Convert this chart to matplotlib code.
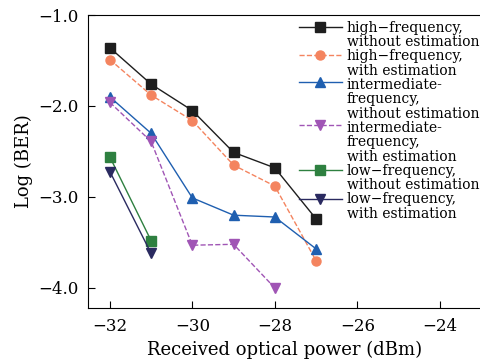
import numpy as np
import matplotlib.pyplot as plt
from matplotlib.legend_handler import HandlerLine2D

plt.rcParams['font.family'] = 'DejaVu Serif'

power = [-32, -31, -30, -29, -28, -27]
high_wo = [-1.36, -1.76, -2.05, -2.51, -2.68, -3.24]
high_w = [-1.49, -1.88, -2.16, -2.65, -2.88, -3.70]
mid_wo = [-1.90, -2.30, -3.01, -3.20, -3.22, -3.57]
power_mid_w = [-32, -31, -30, -29, -28]
mid_w = [-1.96, -2.39, -3.53, -3.52, -4.00]
power_low = [-32, -31]
low_wo = [-2.56, -3.48]
low_w = [-2.72, -3.62]

labels = ['high\u2212frequency,\nwithout estimation',
          'high\u2212frequency,\nwith estimation',
          'intermediate-\nfrequency,\nwithout estimation',
          'intermediate-\nfrequency,\nwith estimation',
          'low\u2212frequency,\nwithout estimation',
          'low\u2212frequency,\nwith estimation']


# put the legend handle on the first line of a multi-line label
class TopLine(HandlerLine2D):
    def __init__(self, shift, **kw):
        super().__init__(**kw)
        self.shift = shift

    def create_artists(self, legend, orig_handle, xdescent, ydescent,
                       width, height, fontsize, trans):
        return super().create_artists(legend, orig_handle, xdescent,
                                      ydescent - 2 * self.shift, width,
                                      height, fontsize, trans)


fig = plt.figure(figsize=(4.81, 3.64), dpi=100)
ax = fig.add_axes([88/481, 56/364, 393/481, 293/364])

lines = []
lines += ax.plot(power, high_wo, '-s', color='#1e1e1e', lw=1.0, ms=6.5, label=labels[0])
lines += ax.plot(power, high_w, '--o', color='#f4845f', lw=1.0, ms=6.5, label=labels[1])
lines += ax.plot(power, mid_wo, '-^', color='#1f5fb0', lw=1.0, ms=7.5, label=labels[2])
lines += ax.plot(power_mid_w, mid_w, '--v', color='#a055b5', lw=1.0, ms=7.5, label=labels[3])
lines += ax.plot(power_low, low_wo, '-s', color='#2e8040', lw=1.0, ms=6.5, label=labels[4])
lines += ax.plot(power_low, low_w, '-v', color='#2a2a60', lw=1.0, ms=7.5, label=labels[5])

ax.set_xlim(-32.53, -23.0)
ax.set_ylim(-4.22, -1.0)
ax.set_xticks([-32, -30, -28, -26, -24])
ax.set_yticks([-1.0, -2.0, -3.0, -4.0])
ax.set_xticklabels(['\u221232', '\u221230', '\u221228', '\u221226', '\u221224'])
ax.set_yticklabels(['\u22121.0', '\u22122.0', '\u22123.0', '\u22124.0'])
ax.tick_params(direction='in', labelsize=12, length=5, top=False, right=False)
ax.tick_params(axis='x', pad=7)
ax.tick_params(axis='y', pad=6.5)
ax.spines['right'].set_visible(False)
ax.set_xlabel('Received optical power (dBm)', fontsize=13)
ax.set_ylabel('Log (BER)', fontsize=13)

fs = 10
ls = 1.05
hmap = {}
for ln, lab in zip(lines, labels):
    n = lab.count('\n')
    hmap[ln] = TopLine(n * fs * ls * 1.2 / 2)

leg = ax.legend(loc='upper right', frameon=False, fontsize=fs, handlelength=3.1,
                labelspacing=0.0, borderaxespad=0.0, handletextpad=0.36,
                bbox_to_anchor=(1.01, 1.0), handler_map=hmap)
for t in leg.get_texts():
    t.set_linespacing(ls)

fig.savefig('out.png', dpi=100)
